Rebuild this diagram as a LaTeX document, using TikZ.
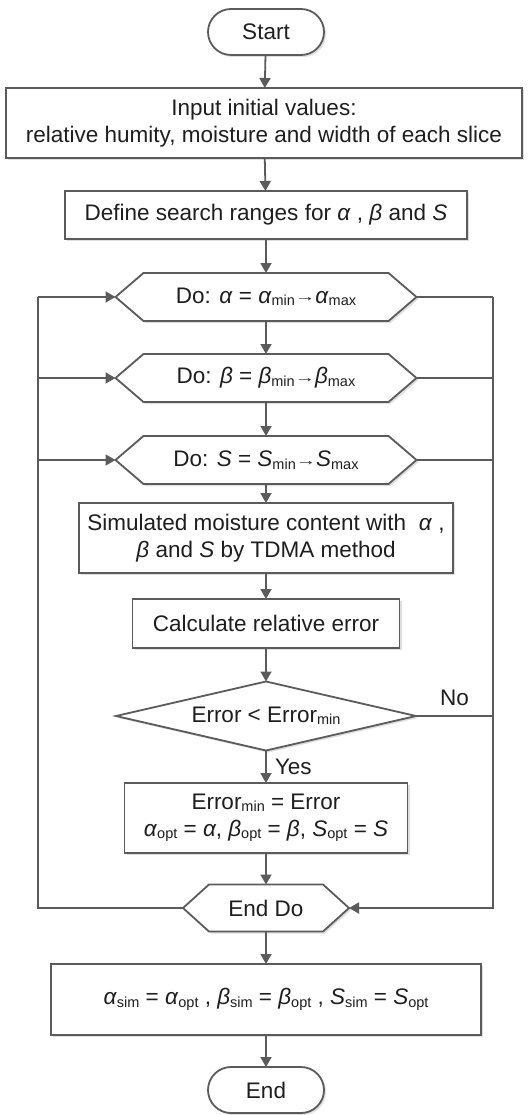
\documentclass[tikz,border=0pt]{standalone}
\usepackage{fontspec}
\setmainfont{Liberation Sans}
\usetikzlibrary{arrows.meta,calc,shadows}

\definecolor{linec}{HTML}{5B5B5B}
\definecolor{textc}{HTML}{1E1E1E}

% lowered small-type index, italic symbol, small range arrow
\newcommand{\lsub}[1]{\raisebox{-2.5pt}{\fontsize{14.5}{14.5}\selectfont #1}}
\newcommand{\gk}[1]{\textit{#1}}
\newcommand{\torange}{\raisebox{1.5pt}{\scalebox{1.45}[1]{\fontsize{14}{14}\selectfont →}}}

\pgfdeclarelayer{bg}
\pgfsetlayers{bg,main}

\tikzset{
  every node/.style={font=\fontsize{22.5}{27}\selectfont, text=textc,
    inner sep=0pt, outer sep=0pt, align=center},
  softshadow/.style={drop shadow={shadow xshift=2pt, shadow yshift=-2pt,
    fill=black, opacity=0.13}},
  outline/.style={draw=linec, line width=1.8pt, fill=white, softshadow},
  box/.style={rectangle, outline},
  term/.style={rectangle, rounded corners=23pt, outline,
    minimum width=116pt, minimum height=46pt},
  plain/.style={rectangle},
  conn/.style={draw=linec, line width=1.8pt},
  flow/.style={conn, -{Triangle[length=10pt,width=11pt]}},
}

% hexagonal loop marker drawn around a plain node
\newcommand{\hexaround}[2]{%
  \begin{pgfonlayer}{bg}
    \path[outline] (#1.west) -- ([xshift=#2]#1.north west)
      -- ([xshift=-#2]#1.north east) -- (#1.east)
      -- ([xshift=-#2]#1.south east) -- ([xshift=#2]#1.south west) -- cycle;
  \end{pgfonlayer}}

\begin{document}
\begin{tikzpicture}[x=1pt, y=-1pt]
  \useasboundingbox (0,0) rectangle (532,1115);

  \node[term] (start) at (266,32) {Start};
  \node[box, minimum width=516pt, minimum height=70pt] (input) at (264,123)
    {Input initial values:\\relative humity, moisture and width of each slice};
  \node[box, minimum width=402pt, minimum height=48pt] (define) at (266,215)
    {Define search ranges for \gk{α} , \gk{β} and \gk{S}};

  \node[plain, minimum width=301pt, minimum height=48pt] (doa) at (266,297)
    {Do: \gk{α} = \gk{α}\lsub{min}\torange\gk{α}\lsub{max}};
  \hexaround{doa}{28pt}
  \node[plain, minimum width=301pt, minimum height=48pt] (dob) at (266,378)
    {Do: \gk{β} = \gk{β}\lsub{min}\torange\gk{β}\lsub{max}};
  \hexaround{dob}{28pt}
  \node[plain, minimum width=301pt, minimum height=48pt] (doc) at (266,460)
    {Do: \gk{S} = \gk{S}\lsub{min}\torange\gk{S}\lsub{max}};
  \hexaround{doc}{28pt}

  \node[box, minimum width=374pt, minimum height=70pt] (sim) at (266,538)
    {Simulated moisture content with \ \gk{α} ,\\\gk{β} and \gk{S} by TDMA method};
  \node[box, minimum width=267pt, minimum height=49pt] (calc) at (266,623.5)
    {Calculate relative error};

  \node[plain, minimum width=300pt, minimum height=69pt] (dec) at (266,716)
    {Error < Error\lsub{min}};
  \begin{pgfonlayer}{bg}
    \path[outline] (dec.north) -- (dec.east) -- (dec.south) -- (dec.west) -- cycle;
  \end{pgfonlayer}

  \node[box, minimum width=283pt, minimum height=70pt] (err) at (266,818)
    {Error\lsub{min} = Error\\
     \gk{α}\lsub{opt} = \gk{α}, \gk{β}\lsub{opt} = \gk{β}, \gk{S}\lsub{opt} = \gk{S}};

  \node[plain, minimum width=166pt, minimum height=47pt] (enddo) at (266,908)
    {End Do};
  \hexaround{enddo}{26pt}

  \node[box, minimum width=430pt, minimum height=71pt] (final) at (266,999.5)
    {\gk{α}\lsub{sim} = \gk{α}\lsub{opt} , \gk{β}\lsub{sim} = \gk{β}\lsub{opt} ,
     \gk{S}\lsub{sim} = \gk{S}\lsub{opt}};
  \node[term] (end) at (266,1090) {End};

  % main sequence
  \draw[flow] (start) -- (input);
  \draw[flow] (input) -- (define);
  \draw[flow] (define) -- (doa);
  \draw[flow] (doa) -- (dob);
  \draw[flow] (dob) -- (doc);
  \draw[flow] (doc) -- (sim);
  \draw[flow] (sim) -- (calc);
  \draw[flow] (calc) -- (dec);
  \draw[flow] (dec) -- node[pos=0.5, right=9pt] {Yes} (err);
  \draw[flow] (err) -- (enddo);
  \draw[flow] (enddo) -- (final);
  \draw[flow] (final) -- (end);

  % left return lines into the loop heads
  \coordinate (la) at (38,297);
  \coordinate (lb) at (38,378);
  \coordinate (lc) at (38,460);
  \coordinate (ld) at (38,908);
  \draw[conn] (enddo.west) -- (ld) -- (la);
  \draw[flow] (la) -- (doa.west);
  \draw[flow] (lb) -- (dob.west);
  \draw[flow] (lc) -- (doc.west);

  % right exit lines into End Do
  \coordinate (ra) at (493,297);
  \coordinate (rb) at (493,378);
  \coordinate (rc) at (493,460);
  \coordinate (rd) at (493,716);
  \coordinate (re) at (493,908);
  \draw[conn] (doa.east) -- (ra);
  \draw[flow] (ra) -- (re) -- (enddo.east);
  \draw[conn] (dob.east) -- (rb);
  \draw[conn] (doc.east) -- (rc);
  \draw[conn] (dec.east) -- node[pos=0.5, above=10pt] {No} (rd);
\end{tikzpicture}
\end{document}
